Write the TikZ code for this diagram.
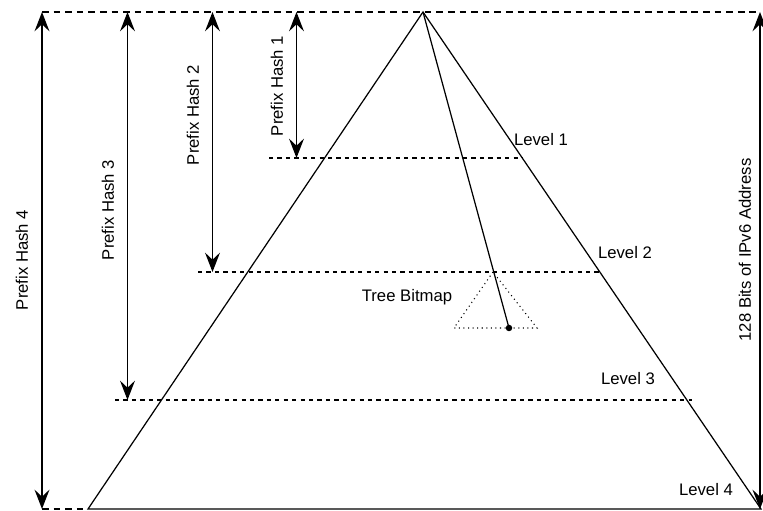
\documentclass[tikz,border=0pt]{standalone}
\usepackage{fontspec}
\setmainfont{Liberation Sans}
\usetikzlibrary{arrows.meta,positioning}
\tikzstyle{edge} = [line width=0.7pt]
\tikzstyle{guide} = [line width=0.6pt, dash pattern=on 3.8pt off 2.8pt]
\tikzstyle{cut} = [line width=0.6pt, dash pattern=on 2.4pt off 2.4pt]
\tikzstyle{span} = [line width=0.75pt, {Stealth[length=11pt,width=8.5pt,inset=4pt]}-{Stealth[length=11pt,width=8.5pt,inset=4pt]}]
\tikzstyle{lbl} = [font=\fontsize{9.5}{11}\selectfont, inner sep=0pt]

\begin{document}
\begin{tikzpicture}
\useasboundingbox (0,0) rectangle (15.26,10.22);

% Address tree
\coordinate (apex) at (8.46,9.98);
\coordinate (bl) at (1.76,0.04);
\coordinate (br) at (15.22,0.04);
\draw[edge] (apex) -- (bl) -- (br) -- cycle;

% Top and bottom guides
\coordinate (top4) at (0.84,9.98);
\coordinate (bot4) at (0.84,0.04);
\coordinate (topR) at (15.2,9.98);
\coordinate (botR) at (15.2,0.04);
\draw[guide] (top4) -- (topR);
\draw[guide] (bot4) -- (bl);

% Level cuts
\coordinate (l1a) at (5.38,7.06);  \coordinate (l1b) at (10.45,7.06);
\coordinate (l2a) at (3.96,4.78);  \coordinate (l2b) at (12.00,4.78);
\coordinate (l3a) at (2.30,2.22);  \coordinate (l3b) at (13.84,2.22);
\draw[cut] (l1a) -- (l1b);
\draw[cut] (l2a) -- (l2b);
\draw[cut] (l3a) -- (l3b);

\node[lbl] (lev1) at (10.82,7.42) {Level 1};
\node[lbl] (lev2) at (12.50,5.16) {Level 2};
\node[lbl] (lev3) at (12.56,2.64) {Level 3};
\node[lbl] (lev4) at (14.12,0.42) {Level 4};

% Prefix hash spans
\coordinate (h1t) at (5.93,9.98); \coordinate (h1b) at (5.93,7.06);
\coordinate (h2t) at (4.25,9.98); \coordinate (h2b) at (4.25,4.78);
\coordinate (h3t) at (2.55,9.98); \coordinate (h3b) at (2.55,2.22);
\draw[span] (h1t) -- (h1b);
\draw[span] (h2t) -- (h2b);
\draw[span] (h3t) -- (h3b);
\draw[span] (top4) -- (bot4);
\draw[span] (topR) -- (botR);

\node[lbl, rotate=90] (ph1) at (5.54,8.50) {Prefix Hash 1};
\node[lbl, rotate=90] (ph2) at (3.86,7.92) {Prefix Hash 2};
\node[lbl, rotate=90] (ph3) at (2.16,6.02) {Prefix Hash 3};
\node[lbl, rotate=90] (ph4) at (0.44,5.02) {Prefix Hash 4};
\node[lbl, rotate=90] (bits) at (14.90,5.22) {128 Bits of IPv6 Address};

% Tree bitmap below level 2
\coordinate (tbtop) at (9.86,4.78);
\coordinate (tbl) at (9.08,3.66);
\coordinate (tbr) at (10.74,3.66);
\draw[line width=0.6pt, dotted] (tbtop) -- (tbl) -- (tbr) -- cycle;
\node[lbl] (tb) at (8.14,4.28) {Tree Bitmap};

% Lookup path
\coordinate (hit) at (10.18,3.66);
\draw[edge] (apex) -- (hit);
\fill (hit) circle (0.065);
\end{tikzpicture}
\end{document}
